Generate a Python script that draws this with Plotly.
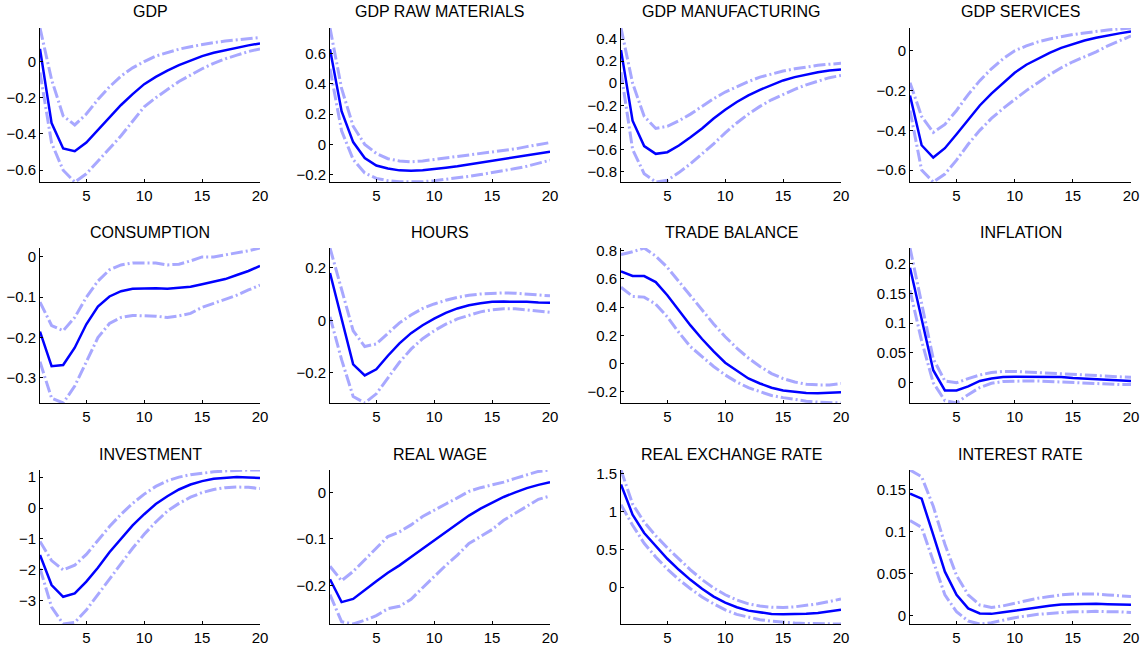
import plotly.graph_objects as go
from plotly.subplots import make_subplots

horizon = list(range(1, 21))

titles = ["GDP", "GDP RAW MATERIALS", "GDP MANUFACTURING", "GDP SERVICES",
          "CONSUMPTION", "HOURS", "TRADE BALANCE", "INFLATION",
          "INVESTMENT", "REAL WAGE", "REAL EXCHANGE RATE", "INTEREST RATE"]

gdp_mean = [0.07, -0.34, -0.48, -0.495, -0.447, -0.38, -0.31, -0.24, -0.18, -0.125,
            -0.085, -0.05, -0.02, 0.005, 0.03, 0.048, 0.063, 0.077, 0.089, 0.1]
gdp_upper = [0.185, -0.1, -0.3, -0.35, -0.29, -0.21, -0.14, -0.08, -0.035, 0.0,
             0.03, 0.05, 0.068, 0.082, 0.094, 0.104, 0.113, 0.12, 0.127, 0.132]
gdp_lower = [-0.06, -0.45, -0.6, -0.665, -0.62, -0.55, -0.48, -0.41, -0.33, -0.25,
             -0.2, -0.155, -0.11, -0.075, -0.04, -0.01, 0.015, 0.035, 0.055, 0.07]

raw_mean = [0.63, 0.22, 0.015, -0.09, -0.14, -0.16, -0.172, -0.175, -0.172, -0.165,
            -0.155, -0.145, -0.133, -0.12, -0.108, -0.096, -0.084, -0.072, -0.06, -0.048]
raw_upper = [0.77, 0.37, 0.12, 0.0, -0.06, -0.095, -0.11, -0.115, -0.11, -0.1,
             -0.09, -0.08, -0.07, -0.06, -0.05, -0.04, -0.03, -0.015, 0.0, 0.012]
raw_lower = [0.5, 0.09, -0.1, -0.19, -0.225, -0.24, -0.247, -0.249, -0.247, -0.24,
             -0.232, -0.222, -0.212, -0.2, -0.188, -0.175, -0.16, -0.145, -0.125, -0.105]

man_mean = [0.3, -0.34, -0.57, -0.64, -0.625, -0.565, -0.49, -0.41, -0.32, -0.24,
            -0.17, -0.11, -0.06, -0.015, 0.025, 0.055, 0.08, 0.1, 0.115, 0.125]
man_upper = [0.5, 0.0, -0.3, -0.41, -0.39, -0.34, -0.28, -0.21, -0.14, -0.08,
             -0.03, 0.015, 0.055, 0.085, 0.11, 0.13, 0.148, 0.162, 0.172, 0.18]
man_lower = [0.1, -0.6, -0.82, -0.895, -0.88, -0.81, -0.73, -0.64, -0.55, -0.45,
             -0.36, -0.28, -0.21, -0.15, -0.1, -0.055, -0.015, 0.02, 0.05, 0.07]

srv_mean = [-0.225, -0.475, -0.537, -0.49, -0.42, -0.345, -0.275, -0.215, -0.16, -0.11,
            -0.07, -0.04, -0.01, 0.015, 0.035, 0.052, 0.066, 0.078, 0.088, 0.097]
srv_upper = [-0.16, -0.33, -0.41, -0.37, -0.3, -0.22, -0.15, -0.09, -0.04, 0.0,
             0.025, 0.045, 0.06, 0.072, 0.082, 0.09, 0.098, 0.105, 0.11, 0.115]
srv_lower = [-0.3, -0.6, -0.66, -0.62, -0.55, -0.47, -0.4, -0.34, -0.29, -0.245,
             -0.2, -0.16, -0.12, -0.085, -0.055, -0.03, -0.005, 0.025, 0.05, 0.075]

con_mean = [-0.185, -0.271, -0.268, -0.225, -0.167, -0.123, -0.098, -0.085, -0.079, -0.078,
            -0.078, -0.079, -0.077, -0.074, -0.068, -0.062, -0.055, -0.045, -0.035, -0.0225]
con_upper = [-0.112, -0.17, -0.183, -0.15, -0.1, -0.06, -0.032, -0.02, -0.015, -0.015,
             -0.015, -0.02, -0.018, -0.01, 0.0, 0.0, 0.005, 0.01, 0.015, 0.022]
con_lower = [-0.26, -0.35, -0.362, -0.32, -0.26, -0.2, -0.165, -0.15, -0.145, -0.146,
             -0.147, -0.15, -0.146, -0.14, -0.125, -0.115, -0.105, -0.095, -0.082, -0.07]

hrs_mean = [0.18, 0.006, -0.168, -0.21, -0.187, -0.135, -0.088, -0.049, -0.019, 0.006,
            0.028, 0.045, 0.057, 0.065, 0.07, 0.071, 0.071, 0.07, 0.068, 0.067]
hrs_upper = [0.275, 0.12, -0.04, -0.1, -0.09, -0.05, -0.01, 0.02, 0.045, 0.062,
             0.076, 0.087, 0.095, 0.1, 0.103, 0.104, 0.103, 0.1, 0.097, 0.093]
hrs_lower = [0.013, -0.15, -0.29, -0.315, -0.28, -0.22, -0.16, -0.11, -0.07, -0.04,
             -0.015, 0.005, 0.02, 0.032, 0.04, 0.044, 0.044, 0.04, 0.035, 0.03]

tb_mean = [0.652, 0.619, 0.619, 0.576, 0.483, 0.376, 0.27, 0.174, 0.086, 0.007,
           -0.05, -0.105, -0.14, -0.17, -0.19, -0.2, -0.207, -0.21, -0.208, -0.202]
tb_upper = [0.77, 0.79, 0.817, 0.76, 0.68, 0.58, 0.48, 0.38, 0.28, 0.19,
            0.11, 0.04, -0.02, -0.07, -0.105, -0.13, -0.145, -0.15, -0.15, -0.14]
tb_lower = [0.54, 0.475, 0.47, 0.42, 0.33, 0.22, 0.12, 0.05, -0.02, -0.08,
            -0.13, -0.17, -0.2, -0.225, -0.24, -0.255, -0.265, -0.272, -0.276, -0.278]

inf_mean = [0.193, 0.106, 0.021, -0.013, -0.013, -0.006, 0.003, 0.007, 0.0095, 0.01,
            0.01, 0.01, 0.01, 0.0095, 0.008, 0.007, 0.006, 0.005, 0.004, 0.003]
inf_upper = [0.226, 0.13, 0.04, 0.003, 0.0, 0.007, 0.013, 0.017, 0.019, 0.019,
             0.018, 0.017, 0.016, 0.015, 0.014, 0.013, 0.012, 0.011, 0.01, 0.009]
inf_lower = [0.155, 0.07, 0.0, -0.03, -0.034, -0.02, -0.008, -0.001, 0.002, 0.003,
             0.003, 0.003, 0.002, 0.002, 0.001, 0.0, -0.001, -0.002, -0.003, -0.003]

inv_mean = [-1.52, -2.49, -2.87, -2.76, -2.38, -1.93, -1.43, -0.98, -0.56, -0.2,
            0.13, 0.38, 0.6, 0.76, 0.87, 0.95, 0.98, 1.0, 0.99, 0.97]
inv_upper = [-1.08, -1.7, -2.0, -1.85, -1.5, -1.05, -0.6, -0.2, 0.15, 0.45,
             0.7, 0.88, 1.0, 1.08, 1.13, 1.17, 1.2, 1.22, 1.23, 1.23]
inv_lower = [-1.95, -3.2, -3.75, -3.7, -3.3, -2.8, -2.3, -1.8, -1.3, -0.85,
             -0.45, -0.1, 0.15, 0.35, 0.5, 0.6, 0.66, 0.68, 0.67, 0.63]

wag_mean = [-0.187, -0.236, -0.229, -0.209, -0.191, -0.173, -0.157, -0.139, -0.121, -0.103,
            -0.085, -0.067, -0.05, -0.035, -0.022, -0.01, 0.0, 0.009, 0.016, 0.022]
wag_upper = [-0.159, -0.19, -0.17, -0.145, -0.12, -0.095, -0.085, -0.07, -0.052, -0.038,
             -0.025, -0.012, 0.002, 0.01, 0.016, 0.022, 0.03, 0.038, 0.045, 0.048]
wag_lower = [-0.22, -0.278, -0.283, -0.275, -0.265, -0.25, -0.245, -0.23, -0.205, -0.18,
             -0.157, -0.135, -0.11, -0.095, -0.08, -0.06, -0.045, -0.03, -0.015, -0.008]

rer_mean = [1.358, 0.96, 0.717, 0.54, 0.376, 0.23, 0.097, -0.022, -0.124, -0.204,
            -0.265, -0.31, -0.336, -0.354, -0.358, -0.358, -0.35, -0.34, -0.323, -0.3]
rer_upper = [1.55, 1.1, 0.86, 0.68, 0.52, 0.37, 0.23, 0.1, -0.01, -0.1,
             -0.17, -0.22, -0.25, -0.265, -0.27, -0.26, -0.245, -0.22, -0.19, -0.155]
rer_lower = [1.09, 0.82, 0.58, 0.4, 0.24, 0.1, -0.02, -0.13, -0.22, -0.3,
             -0.36, -0.4, -0.43, -0.45, -0.465, -0.475, -0.48, -0.483, -0.485, -0.487]

int_mean = [0.145, 0.139, 0.096, 0.0525, 0.025, 0.009, 0.003, 0.0025, 0.0045, 0.0065,
            0.0085, 0.0105, 0.012, 0.0135, 0.014, 0.0145, 0.0145, 0.014, 0.0138, 0.0134]
int_upper = [0.173, 0.165, 0.13, 0.085, 0.048, 0.025, 0.013, 0.01, 0.012, 0.015,
             0.018, 0.021, 0.023, 0.025, 0.026, 0.026, 0.026, 0.025, 0.024, 0.023]
int_lower = [0.113, 0.105, 0.065, 0.025, 0.005, -0.006, -0.0095, -0.008, -0.005, -0.002,
             0.0, 0.002, 0.003, 0.004, 0.005, 0.005, 0.0055, 0.005, 0.005, 0.004]

panels = [
    (gdp_mean, gdp_upper, gdp_lower, 0.2),
    (raw_mean, raw_upper, raw_lower, 0.2),
    (man_mean, man_upper, man_lower, 0.2),
    (srv_mean, srv_upper, srv_lower, 0.2),
    (con_mean, con_upper, con_lower, 0.1),
    (hrs_mean, hrs_upper, hrs_lower, 0.2),
    (tb_mean, tb_upper, tb_lower, 0.2),
    (inf_mean, inf_upper, inf_lower, 0.05),
    (inv_mean, inv_upper, inv_lower, 1),
    (wag_mean, wag_upper, wag_lower, 0.1),
    (rer_mean, rer_upper, rer_lower, 0.5),
    (int_mean, int_upper, int_lower, 0.05),
]

W, H = 1148, 648
col_px = [(40, 260), (330, 550), (621, 841), (910, 1131)]
row_px = [(28, 182), (248, 403), (470, 624)]

fig = make_subplots(rows=3, cols=4)
band_color = "rgb(168,168,255)"
main_color = "rgb(0,0,255)"
font_family = "Liberation Sans, Arial, Helvetica, sans-serif"

for i, (m, u, l, dt) in enumerate(panels):
    r, c = i // 4 + 1, i % 4 + 1
    for band in (u, l):
        fig.add_trace(go.Scatter(x=horizon, y=band, mode="lines",
                                 line=dict(color=band_color, width=3, dash="12px,3px,2px,3px"),
                                 showlegend=False, hoverinfo="skip"), row=r, col=c)
    fig.add_trace(go.Scatter(x=horizon, y=m, mode="lines",
                             line=dict(color=main_color, width=2.5),
                             showlegend=False), row=r, col=c)
    lo = min(min(m), min(u), min(l))
    hi = max(max(m), max(u), max(l))
    idx = "" if i == 0 else str(i + 1)
    x0, x1 = col_px[c - 1]
    y0, y1 = row_px[r - 1]
    fig.layout["xaxis" + idx].update(
        domain=[x0 / W, x1 / W], range=[1, 20], tickvals=[5, 10, 15, 20],
        showline=True, linecolor="black", linewidth=1, ticks="inside", ticklen=3,
        tickcolor="black", showgrid=False, zeroline=False, automargin=False,
        tickfont=dict(size=15, color="black", family=font_family))
    fig.layout["yaxis" + idx].update(
        domain=[1 - y1 / H, 1 - y0 / H], range=[lo, hi], dtick=dt, tick0=0,
        showline=True, linecolor="black", linewidth=1, ticks="inside", ticklen=3,
        tickcolor="black", showgrid=False, zeroline=False, automargin=False,
        tickfont=dict(size=15, color="black", family=font_family))
    fig.add_annotation(text=titles[i], x=(x0 + x1) / 2 / W, y=1 - (y0 - 16) / H,
                       xref="paper", yref="paper", showarrow=False,
                       xanchor="center", yanchor="middle",
                       font=dict(size=16, color="black", family=font_family))

fig.update_layout(width=W, height=H, margin=dict(l=0, r=0, t=0, b=0),
                  plot_bgcolor="white", paper_bgcolor="white", showlegend=False)

fig.write_html("out.html", config={"displayModeBar": False},
               post_script="document.body.style.margin='0';document.body.style.overflow='hidden';")
